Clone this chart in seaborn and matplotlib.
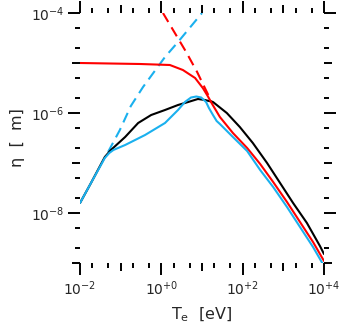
import numpy as np
import matplotlib
matplotlib.use("Agg")
import matplotlib.pyplot as plt
import matplotlib.ticker as mticker
import seaborn as sns

# ---- data (log10 values) ----
black_logT = [-2.0, -1.73, -1.39, -1.24, -0.89, -0.57, -0.25, 0.09, 0.41, 0.66, 0.90, 1.07, 1.27,
              1.61, 1.93, 2.25, 2.60, 2.92, 3.24, 3.58, 3.90, 4.0]
black_logEta = [-7.80, -7.40, -6.88, -6.74, -6.48, -6.20, -6.04, -5.94, -5.84, -5.78, -5.72, -5.74, -5.78,
                -6.00, -6.28, -6.60, -7.00, -7.40, -7.80, -8.20, -8.66, -8.82]

blue_logT = [-2.0, -1.73, -1.39, -1.28, -1.18, -0.89, -0.40, 0.09, 0.41, 0.58, 0.73, 0.86, 0.98, 1.10,
             1.17, 1.27, 1.36, 1.44, 1.76, 2.11, 2.43, 2.75, 3.09, 3.41, 3.73, 4.0]
blue_logEta = [-7.80, -7.40, -6.90, -6.80, -6.74, -6.64, -6.44, -6.20, -5.94, -5.78, -5.69, -5.67, -5.69, -5.78,
               -5.90, -6.04, -6.16, -6.22, -6.48, -6.76, -7.14, -7.48, -7.88, -8.28, -8.68, -9.06]

red_logT = [-2.0, -0.52, 0.21, 0.53, 0.83, 1.02, 1.14, 1.25, 1.44, 1.76, 2.11, 2.43, 2.75, 3.09,
            3.41, 3.73, 4.0]
red_logEta = [-5.0, -5.02, -5.04, -5.14, -5.30, -5.50, -5.66, -5.82, -6.08, -6.40, -6.70, -7.02, -7.38, -7.78,
              -8.18, -8.58, -8.96]

red_dash_logT = [0.04, 0.61, 0.88, 1.25]
red_dash_logEta = [-4.0, -4.78, -5.18, -5.80]

blue_dash_logT = [-1.31, -1.02, -0.75, -0.45, 0.09, 0.41, 1.0]
blue_dash_logEta = [-6.78, -6.34, -5.86, -5.48, -4.88, -4.58, -4.0]

x_labeled = [1e-2, 1e0, 1e2, 1e4]
x_labels = ["$10^{-2}$", "$10^{+0}$", "$10^{+2}$", "$10^{+4}$"]
x_odd = [1e-1, 1e1, 1e3]
y_labeled = [1e-8, 1e-6, 1e-4]
y_labels = ["$10^{-8}$", "$10^{-6}$", "$10^{-4}$"]
y_odd = [1e-9, 1e-7, 1e-5]

RED = "#ff0000"
BLUE = "#1ab0ee"

sns.set_style("white")
plt.rcParams["font.family"] = ["DejaVu Sans"]
plt.rcParams["mathtext.default"] = "regular"

fig = plt.figure(figsize=(3.4, 3.27), dpi=100)
rect = [80 / 340, 1 - 263 / 327, 244 / 340, 250 / 327]
ax = fig.add_axes(rect)

def draw(lt, le, color, ls):
    sns.lineplot(x=10 ** np.array(lt), y=10 ** np.array(le), ax=ax, color=color,
                 linestyle=ls, linewidth=1.5, sort=False, estimator=None, legend=False)

draw(red_dash_logT, red_dash_logEta, RED, (0, (5, 3)))
draw(blue_dash_logT, blue_dash_logEta, BLUE, (0, (5, 3)))
draw(black_logT, black_logEta, "black", "-")
draw(red_logT, red_logEta, RED, "-")
draw(blue_logT, blue_logEta, BLUE, "-")

ax.set_xscale("log")
ax.set_yscale("log")
ax.set_xlim(1e-2, 1e4)
ax.set_ylim(1e-9, 1e-4)
for s in ax.spines.values():
    s.set_visible(False)

ax.xaxis.set_major_locator(mticker.FixedLocator(x_labeled))
ax.xaxis.set_major_formatter(mticker.FixedFormatter(x_labels))
ax.yaxis.set_major_locator(mticker.FixedLocator(y_labeled))
ax.yaxis.set_major_formatter(mticker.FixedFormatter(y_labels))
ax.xaxis.set_minor_locator(mticker.LogLocator(base=10, subs=(2.0, 5.0), numticks=20))
ax.yaxis.set_minor_locator(mticker.LogLocator(base=10, subs=(2.0, 5.0), numticks=20))
ax.xaxis.set_minor_formatter(mticker.NullFormatter())
ax.yaxis.set_minor_formatter(mticker.NullFormatter())
ax.tick_params(which="both", direction="out", top=True, right=True, bottom=True, left=True,
               color="black", width=1.4)
ax.tick_params(which="major", length=8.5, labelsize=10, pad=3)
ax.tick_params(which="minor", length=3.5)

ax.set_xlabel("T$_{e}$  [eV]", fontsize=11.5, labelpad=6)
ax.set_ylabel("η  [  m]", fontsize=11.5, labelpad=4)

# overlay for medium ticks at unlabeled decades
ax2 = fig.add_axes(rect)
ax2.set_xscale("log")
ax2.set_yscale("log")
ax2.set_xlim(1e-2, 1e4)
ax2.set_ylim(1e-9, 1e-4)
ax2.patch.set_visible(False)
for s in ax2.spines.values():
    s.set_visible(False)
ax2.xaxis.set_major_locator(mticker.FixedLocator(x_odd))
ax2.yaxis.set_major_locator(mticker.FixedLocator(y_odd))
ax2.xaxis.set_minor_locator(mticker.NullLocator())
ax2.yaxis.set_minor_locator(mticker.NullLocator())
ax2.tick_params(which="major", direction="out", top=True, right=True, bottom=True, left=True,
                labelbottom=False, labelleft=False, length=6, width=1.4, color="black")

fig.savefig("out.png", dpi=100)
